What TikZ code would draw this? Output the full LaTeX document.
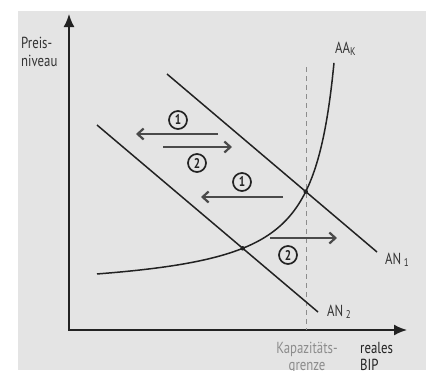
\documentclass[tikz,border=0pt]{standalone}
\usepackage{fontspec}
\setmainfont{PT Sans}[FakeStretch=0.8]
\usetikzlibrary{arrows.meta,intersections}
\definecolor{bg}{HTML}{E4E4E4}
\definecolor{ink}{HTML}{222222}
\definecolor{arrowgray}{HTML}{4A4A4A}
\definecolor{labelgray}{HTML}{8C8C8C}
\definecolor{txt}{HTML}{333333}
\tikzset{
  axis/.style={draw=ink, line width=1.7pt, {Latex[length=13pt,width=11pt]}-{Latex[length=13pt,width=11pt]}},
  curve/.style={draw=ink, line width=1.5pt},
  shift arrow/.style={draw=arrowgray, line width=2.2pt, -{Straight Barb[length=6pt,width=11pt]}},
  circnum/.style={circle, draw=ink, line width=1.7pt, inner sep=0pt, minimum size=18pt, font=\fontsize{14}{14}\selectfont\bfseries, text=ink},
  lbl/.style={text=txt, inner sep=0pt},
  dashline/.style={draw=labelgray, line width=0.9pt, dash pattern=on 5pt off 4pt},
  dot/.style={circle, fill=ink, inner sep=0pt, minimum size=4.5pt}
}
\begin{document}
\begin{tikzpicture}[x=1pt,y=-1pt, font=\fontsize{16}{19}\selectfont]
\useasboundingbox (0,0) rectangle (426,370);
\fill[bg] (18,11) rectangle (426,370);
% axes
\coordinate (O) at (69,330);
\coordinate (ytip) at (69,14);
\coordinate (xtip) at (407,330);
\draw[axis] (ytip) -- (O) -- (xtip);
% capacity limit
\coordinate (capTop) at (306,67);
\coordinate (capBot) at (306,330);
\draw[dashline] (capTop) -- (capBot);
% demand curves
\coordinate (an1s) at (167,74);
\coordinate (an1e) at (377,252);
\coordinate (an2s) at (97,125);
\coordinate (an2e) at (318,312);
\draw[curve, name path=an1] (an1s) -- (an1e);
\draw[curve, name path=an2] (an2s) -- (an2e);
% supply curve
\draw[curve, name path=aa] plot[domain=97:334, samples=120, smooth] (\x, {294-5200/(356.5-\x)});
\path[name intersections={of=an1 and aa, by=E1}];
\path[name intersections={of=an2 and aa, by=E2}];
\node[dot] (e1) at (E1) {};
\node[dot] (e2) at (E2) {};
% shift arrows
\coordinate (a1s) at (218,134); \coordinate (a1e) at (136,134);
\coordinate (a2s) at (163,147); \coordinate (a2e) at (232,147);
\coordinate (a3s) at (283,197); \coordinate (a3e) at (201,197);
\coordinate (a4s) at (270,238); \coordinate (a4e) at (337,238);
\draw[shift arrow] (a1s) -- (a1e);
\draw[shift arrow] (a2s) -- (a2e);
\draw[shift arrow] (a3s) -- (a3e);
\draw[shift arrow] (a4s) -- (a4e);
\node[circnum] (n1a) at (178,120) {1};
\node[circnum] (n2a) at (197,163) {2};
\node[circnum] (n1b) at (242,182) {1};
\node[circnum] (n2b) at (288,255) {2};
% labels
\node[lbl, anchor=base west] (py1) at (21,48) {Preis-};
\node[lbl, anchor=base west] (py2) at (21,66) {niveau};
\node[lbl, anchor=base west] (aak) at (335,53) {AA\textsubscript{K}};
\node[lbl, anchor=base west] (an1l) at (385,264) {AN\,\textsubscript{1}};
\node[lbl, anchor=base west] (an2l) at (327,316) {AN\,\textsubscript{2}};
\node[lbl, anchor=base, text=labelgray] (kap1) at (307,353) {Kapazitäts-};
\node[lbl, anchor=base, text=labelgray] (kap2) at (307,370.5) {grenze};
\node[lbl, anchor=base west, text=ink] (bip1) at (360,353) {reales};
\node[lbl, anchor=base west, text=ink] (bip2) at (360,370.5) {BIP};
\end{tikzpicture}
\end{document}
